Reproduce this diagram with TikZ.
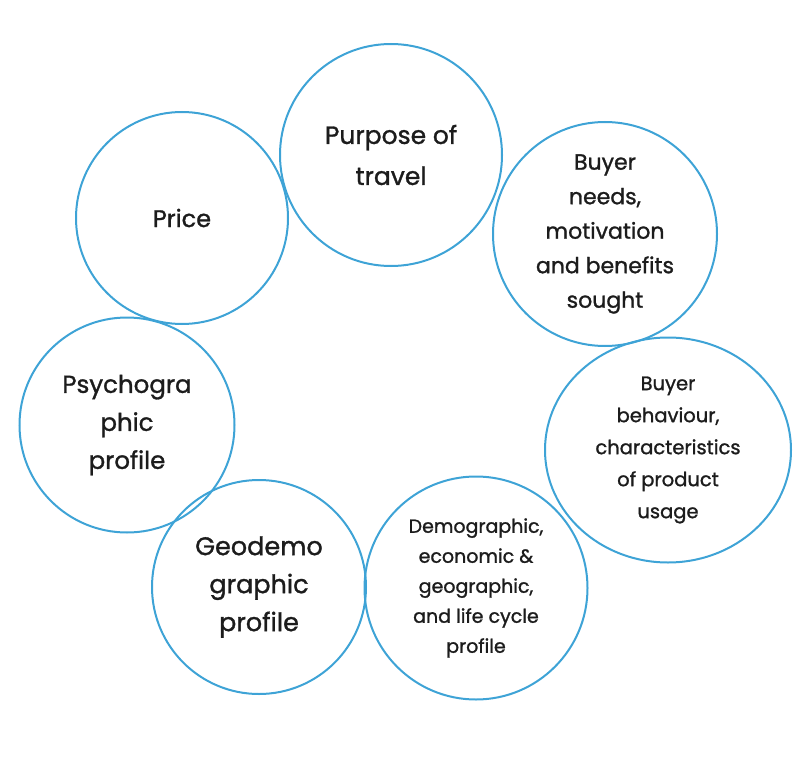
\documentclass[tikz,border=0pt]{standalone}
\usepackage{fontspec}
\setmainfont{Poppins}
\newfontfamily\ringfont{Poppins}[FakeBold=1.2]
\usepackage{xcolor}
\usepackage{tikz}
\usetikzlibrary{shapes.geometric}
\definecolor{ringblue}{RGB}{62,163,214}
\definecolor{ringtext}{RGB}{28,28,28}
\tikzset{
  segcircle/.style={circle,draw=ringblue,line width=2pt,inner sep=0pt,
    align=center,text=ringtext},
  segoval/.style={ellipse,draw=ringblue,line width=2pt,inner sep=0pt,
    align=center,text=ringtext}
}

\begin{document}
\begin{tikzpicture}[x=1pt,y=-1pt]
  \useasboundingbox (0,0) rectangle (811,757);
  % ring of segmentation bases
  \node[segcircle,minimum size=222pt,font=\ringfont\fontsize{25}{41}\selectfont] (purpose) at (391,155) {Purpose of\\travel};
  \node[segcircle,minimum size=212pt,font=\ringfont\fontsize{24}{40}\selectfont] (price) at (182,218) {Price};
  \node[segcircle,minimum size=224pt,font=\ringfont\fontsize{22}{34.5}\selectfont] (needs) at (605,234) {Buyer\\needs,\\motivation\\and benefits\\sought};
  \node[segoval,minimum width=246pt,minimum height=225pt,font=\ringfont\fontsize{19.5}{32}\selectfont] (behaviour) at (668,450) {Buyer\\behaviour,\\characteristics\\of product\\usage};
  \node[segcircle,minimum size=223pt,font=\ringfont\fontsize{19}{30}\selectfont] (demog) at (476,588) {Demographic,\\economic \&\\geographic,\\and life cycle\\profile};
  \node[segcircle,minimum size=214pt,font=\ringfont\fontsize{25.5}{38}\selectfont] (geodemo) at (259,587) {Geodemo\\graphic\\profile};
  \node[segcircle,minimum size=215pt,font=\ringfont\fontsize{24.5}{38}\selectfont] (psycho) at (127,425) {Psychogra\\phic\\profile};
\end{tikzpicture}
\end{document}
